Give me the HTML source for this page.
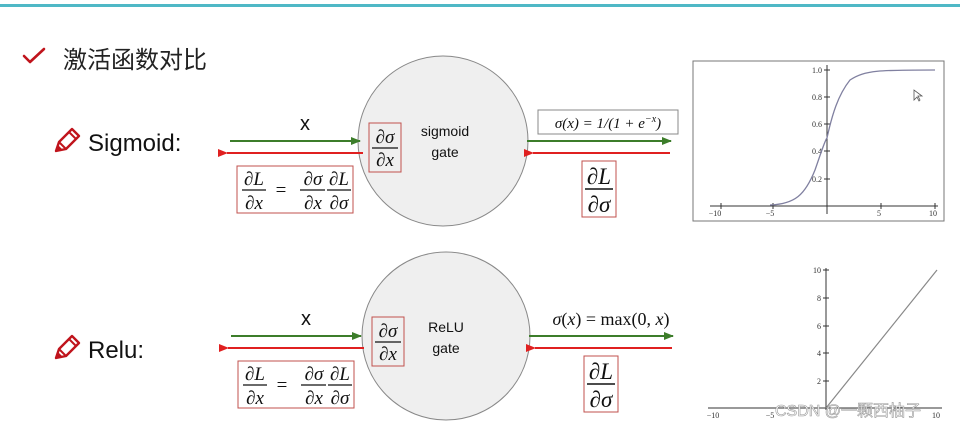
<!DOCTYPE html>
<html><head><meta charset="utf-8"><style>
html,body{margin:0;padding:0;background:#fff;}
svg{display:block;}
.m{font-family:"Liberation Serif",serif;font-style:italic;fill:#111;}
.r{font-family:"Liberation Serif",serif;fill:#111;}
.s{font-family:"Liberation Sans",sans-serif;fill:#111;}
.ax{font-family:"Liberation Serif",serif;font-size:8px;fill:#333;}
</style></head><body>
<svg width="960" height="429" viewBox="0 0 960 429" xmlns="http://www.w3.org/2000/svg">
<defs>
<marker id="ga" markerWidth="10" markerHeight="8" refX="9" refY="4" orient="auto" markerUnits="userSpaceOnUse"><path d="M0,0 L10,4 L0,8 z" fill="#3c7d2a"/></marker>
<marker id="ra" markerWidth="10" markerHeight="8" refX="1" refY="4" orient="auto" markerUnits="userSpaceOnUse"><path d="M10,0 L0,4 L10,8 z" fill="#e02020"/></marker>
<g id="pencil">
<path d="M0,22 L3,13 L16,0 L23,7 L10,20 Z" fill="none" stroke="#c0141c" stroke-width="2.4" stroke-linejoin="round"/>
<path d="M3,13 L10,20 M13,3 L20,10" stroke="#c0141c" stroke-width="2"/>
<path d="M0,22 L2,16 L6,20 Z" fill="#c0141c"/>
</g>
<g id="dlsig">
<rect x="237" y="166" width="116" height="47" fill="none" stroke="#c0504d" stroke-width="1"/>
<text class="m" x="254" y="185" font-size="19" text-anchor="middle">∂L</text>
<line x1="242" y1="190" x2="266" y2="190" stroke="#111" stroke-width="1.2"/>
<text class="m" x="254" y="209" font-size="19" text-anchor="middle">∂x</text>
<text class="r" x="281" y="196" font-size="19" text-anchor="middle" fill="#555">=</text>
<text class="m" x="313" y="185" font-size="19" text-anchor="middle">∂σ</text>
<line x1="300" y1="190" x2="325" y2="190" stroke="#111" stroke-width="1.2"/>
<text class="m" x="313" y="209" font-size="19" text-anchor="middle">∂x</text>
<text class="m" x="339" y="185" font-size="19" text-anchor="middle">∂L</text>
<line x1="327" y1="190" x2="351" y2="190" stroke="#111" stroke-width="1.2"/>
<text class="m" x="339" y="209" font-size="19" text-anchor="middle">∂σ</text>
<line x1="230" y1="141" x2="360" y2="141" stroke="#3c7d2a" stroke-width="2" marker-end="url(#ga)"/>
<line x1="363" y1="153" x2="227" y2="153" stroke="#e02020" stroke-width="2" marker-end="url(#ra)"/>
<text class="s" x="305" y="130" font-size="20" text-anchor="middle">x</text>
</g>
<g id="inner">
<rect x="369" y="123" width="32" height="49" fill="none" stroke="#c0504d" stroke-width="1"/>
<text class="m" x="385" y="143" font-size="19" text-anchor="middle">∂σ</text>
<line x1="372" y1="148" x2="398" y2="148" stroke="#111" stroke-width="1.2"/>
<text class="m" x="385" y="166" font-size="19" text-anchor="middle">∂x</text>
</g>
<g id="rgt">
<line x1="527" y1="141" x2="671" y2="141" stroke="#3c7d2a" stroke-width="2" marker-end="url(#ga)"/>
<line x1="670" y1="153" x2="533" y2="153" stroke="#e02020" stroke-width="2" marker-end="url(#ra)"/>
<rect x="582" y="161" width="34" height="56" fill="none" stroke="#c0504d" stroke-width="1"/>
<text class="m" x="599" y="184" font-size="23" text-anchor="middle">∂L</text>
<line x1="585" y1="189" x2="613" y2="189" stroke="#111" stroke-width="1.4"/>
<text class="m" x="599" y="212" font-size="23" text-anchor="middle">∂σ</text>
</g>
</defs>

<rect x="0" y="4" width="960" height="3" fill="#4fb8c6"/>
<path d="M24,56 L30,62 L44,49" fill="none" stroke="#c0141c" stroke-width="2.6" stroke-linejoin="round" stroke-linecap="round"/>
<text x="63" y="68" font-size="24" font-family="'Noto Sans CJK SC',sans-serif" fill="#222">激活函数对比</text>

<!-- Sigmoid -->
<use href="#pencil" x="56" y="129"/>
<text class="s" x="88" y="151" font-size="24">Sigmoid:</text>
<circle cx="443" cy="141" r="85" fill="#efefef" stroke="#888" stroke-width="1"/>
<use href="#dlsig"/>
<use href="#inner"/>
<text class="s" x="445" y="136" font-size="14" text-anchor="middle">sigmoid</text>
<text class="s" x="445" y="157" font-size="14" text-anchor="middle">gate</text>
<use href="#rgt"/>
<rect x="538" y="110" width="140" height="24" fill="none" stroke="#888" stroke-width="1"/>
<text class="m" x="608" y="128" font-size="15" text-anchor="middle">σ(<tspan>x</tspan>) = 1/(1 + e<tspan font-size="10" dy="-6">−x</tspan><tspan dy="6">)</tspan></text>

<!-- Sigmoid graph -->
<rect x="693" y="61" width="251" height="160" fill="#fff" stroke="#777" stroke-width="1"/>
<line x1="710" y1="206" x2="938" y2="206" stroke="#333" stroke-width="1"/>
<line x1="827" y1="65" x2="827" y2="214" stroke="#333" stroke-width="1"/>
<g stroke="#333" stroke-width="1">
<line x1="721" y1="203" x2="721" y2="209"/><line x1="773" y1="203" x2="773" y2="209"/><line x1="881" y1="203" x2="881" y2="209"/><line x1="935" y1="203" x2="935" y2="209"/>
<line x1="824" y1="70" x2="830" y2="70"/><line x1="824" y1="97" x2="830" y2="97"/><line x1="824" y1="124" x2="830" y2="124"/><line x1="824" y1="151" x2="830" y2="151"/><line x1="824" y1="179" x2="830" y2="179"/>
</g>
<text class="ax" x="715" y="216" text-anchor="middle">−10</text>
<text class="ax" x="770" y="216" text-anchor="middle">−5</text>
<text class="ax" x="879" y="216" text-anchor="middle">5</text>
<text class="ax" x="933" y="216" text-anchor="middle">10</text>
<text class="ax" x="822" y="73" text-anchor="end">1.0</text>
<text class="ax" x="822" y="100" text-anchor="end">0.8</text>
<text class="ax" x="822" y="127" text-anchor="end">0.6</text>
<text class="ax" x="822" y="154" text-anchor="end">0.4</text>
<text class="ax" x="822" y="182" text-anchor="end">0.2</text>
<path d="M770,205 C795,204 805,195 815,170 C822,150 825,140 827,138 C832,115 838,95 850,80 C865,70 880,70 935,70" fill="none" stroke="#8080a0" stroke-width="1.3"/>
<path d="M914,90 L914,100 L917,97 L919,101 L920,100 L918,96 L922,96 Z" fill="#fff" stroke="#555" stroke-width="0.8"/>

<!-- Relu -->
<use href="#pencil" x="56" y="336"/>
<text class="s" x="88" y="358" font-size="24">Relu:</text>
<circle cx="446" cy="336" r="84" fill="#efefef" stroke="#888" stroke-width="1"/>
<use href="#dlsig" x="1" y="195"/>
<use href="#inner" x="3" y="194"/>
<text class="s" x="446" y="332" font-size="14" text-anchor="middle">ReLU</text>
<text class="s" x="446" y="353" font-size="14" text-anchor="middle">gate</text>
<use href="#rgt" x="2" y="195"/>
<text class="r" x="611" y="325" font-size="18" text-anchor="middle"><tspan font-style="italic">σ</tspan>(<tspan font-style="italic">x</tspan>) = max(0, <tspan font-style="italic">x</tspan>)</text>

<!-- Relu graph -->
<line x1="708" y1="408" x2="942" y2="408" stroke="#333" stroke-width="1"/>
<line x1="826" y1="268" x2="826" y2="410" stroke="#333" stroke-width="1"/>
<g stroke="#333" stroke-width="1">
<line x1="823" y1="270" x2="829" y2="270"/><line x1="823" y1="298" x2="829" y2="298"/><line x1="823" y1="326" x2="829" y2="326"/><line x1="823" y1="353" x2="829" y2="353"/><line x1="823" y1="381" x2="829" y2="381"/>
</g>
<text class="ax" x="821" y="273" text-anchor="end">10</text>
<text class="ax" x="821" y="301" text-anchor="end">8</text>
<text class="ax" x="821" y="329" text-anchor="end">6</text>
<text class="ax" x="821" y="356" text-anchor="end">4</text>
<text class="ax" x="821" y="384" text-anchor="end">2</text>
<text class="ax" x="713" y="418" text-anchor="middle">−10</text>
<text class="ax" x="770" y="418" text-anchor="middle">−5</text>
<text class="ax" x="936" y="418" text-anchor="middle">10</text>
<line x1="826" y1="408" x2="937" y2="270" stroke="#888" stroke-width="1.2"/>
<text x="775" y="416" font-size="16" font-family="'Liberation Sans','Noto Sans CJK SC',sans-serif" fill="#fff" stroke="#999" stroke-width="0.6">CSDN @一颗西柚子</text>
</svg>
</body></html>
